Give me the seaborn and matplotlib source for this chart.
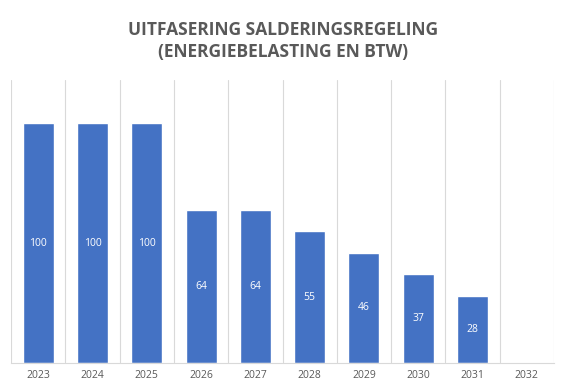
import matplotlib
matplotlib.use('Agg')
import matplotlib.pyplot as plt
import seaborn as sns
import numpy as np
import pandas as pd

years = ['2023', '2024', '2025', '2026', '2027', '2028', '2029', '2030', '2031', '2032']
percent = [100, 100, 100, 64, 64, 55, 46, 37, 28, 0]

df = pd.DataFrame({'jaar': years, 'percentage': percent})

sns.set_style('white')
plt.rcParams['font.family'] = ['Open Sans', 'DejaVu Sans']

fig = plt.figure(figsize=(5.75, 3.83), dpi=100)
ax = fig.add_axes([11 / 575, 20 / 383, 543 / 575, 283 / 383])

sns.barplot(data=df, x='jaar', y='percentage', color='#4472C4', width=0.57,
            saturation=1, ax=ax)

# value labels in the middle of each bar
for i, v in enumerate(percent):
    if v > 0:
        ax.text(i, v / 2, str(v), ha='center', va='center', color='white', fontsize=7.5)

ax.set_xlim(-0.5, len(years) - 0.5)
ax.set_ylim(0, 118)
ax.set_xticks(np.arange(-0.5, len(years), 1), minor=True)
ax.grid(which='minor', axis='x', color='#D9D9D9', linewidth=0.8)
ax.tick_params(axis='x', which='both', length=0, labelsize=7.5, labelcolor='#595959', pad=5)
ax.set_yticks([])
ax.set_xlabel('')
ax.set_ylabel('')
for side in ['top', 'left', 'right']:
    ax.spines[side].set_visible(False)
ax.spines['bottom'].set_color('#D9D9D9')
ax.set_axisbelow(True)

fig.text(0.492, 0.892, 'UITFASERING SALDERINGSREGELING\n(ENERGIEBELASTING EN BTW)',
         ha='center', va='center', fontsize=12.5, fontweight='bold', color='#595959',
         linespacing=1.3)

fig.savefig('out.png', dpi=100)
